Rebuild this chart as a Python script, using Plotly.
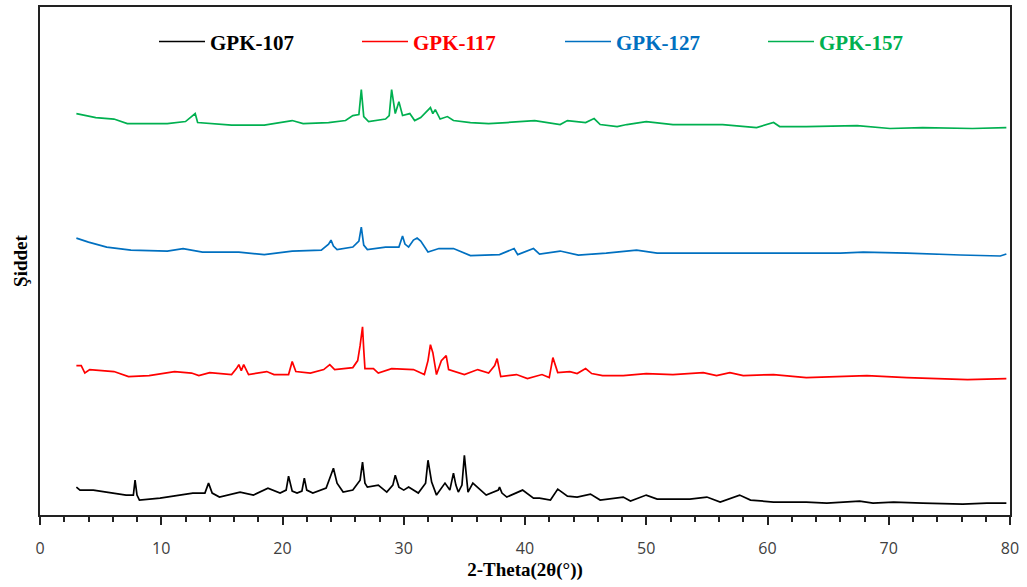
import plotly.graph_objects as go

# ---------------- data (stacked intensities, a.u.) ----------------
black_x = [3.0, 3.3, 4.4, 7.1, 7.7, 7.84, 8.0, 8.2, 9.9, 12.6, 13.6, 13.9, 14.2, 14.8, 16.5, 17.6,
           18.8, 19.8, 20.3, 20.5, 20.8, 21.2, 21.6, 21.8, 22.0, 22.5, 23.6, 24.0, 24.2, 24.5, 25.0,
           25.8, 26.4, 26.6, 26.8, 27.0, 27.9, 28.6, 29.1, 29.3, 29.6, 30.0, 30.4, 31.2, 31.8, 32.0,
           32.3, 32.7, 33.4, 33.8, 34.1, 34.3, 34.5, 34.8, 35.0, 35.2, 35.3, 35.7, 36.8, 37.8, 37.9,
           38.1, 38.5, 39.8, 40.7, 41.2, 42.1, 42.7, 43.5, 44.3, 45.4, 46.2, 48.1, 48.7, 50.0, 50.9,
           53.6, 55.0, 56.1, 57.7, 58.6, 60.5, 63.2, 64.9, 67.6, 68.7, 70.4, 72.8, 76.1, 78.1, 79.7]
black_y = [28, 25, 25, 20, 20, 35, 20, 15, 17, 22, 22, 32, 22, 18, 23, 20,
           27, 22, 25, 39, 24, 22, 24, 37, 25, 22, 27, 40, 47, 32, 23,
           25, 35, 53, 32, 28, 30, 23, 30, 40, 28, 25, 28, 22, 32, 55,
           33, 20, 32, 25, 42, 30, 23, 30, 60, 35, 23, 32, 20, 25, 28,
           22, 18, 25, 17, 17, 15, 26, 19, 18, 21, 15, 18, 14, 20, 16,
           16, 18, 13, 20, 15, 13, 13, 12, 14, 12, 13, 12, 11, 12, 12]

red_x = [3.0, 3.4, 3.7, 4.1, 6.1, 7.3, 9.0, 11.1, 12.5, 13.1, 14.0, 15.8, 16.2, 16.4, 16.6, 16.8,
         17.2, 18.7, 19.3, 20.5, 20.8, 21.1, 22.3, 23.4, 23.9, 24.3, 25.8, 26.2, 26.4, 26.6, 26.7,
         26.8, 27.5, 27.9, 29.0, 30.8, 31.7, 32.0, 32.2, 32.4, 32.7, 33.1, 33.5, 33.7, 35.0, 36.1,
         37.0, 37.5, 37.7, 38.0, 39.3, 40.2, 41.4, 42.0, 42.3, 42.5, 42.7, 43.7, 44.3, 45.0, 45.5,
         46.4, 48.1, 50.0, 52.2, 54.7, 55.8, 56.9, 58.0, 60.5, 63.2, 68.2, 71.5, 76.5, 79.7]
red_y = [150, 150, 142.5, 146, 144, 139, 140, 144, 142.5, 140, 143, 141, 147, 151, 145, 151,
         141, 144, 141, 141, 154, 144, 142.5, 146, 151, 146, 148, 155, 170, 189, 166,
         147, 147, 142.5, 147, 146, 141, 155, 171, 163, 141, 155, 160, 146, 141, 146,
         142.5, 150, 157, 139, 141, 137, 141, 138, 158, 150, 143, 144, 142, 147, 142,
         140, 140, 142, 141, 143, 140, 143, 140, 141, 138, 140, 138, 136, 137]

blue_x = [3.0, 4.0, 5.5, 7.5, 10.5, 11.8, 13.4, 16.4, 18.5, 20.8, 23.2, 23.8, 24.0, 24.2, 24.5,
          25.8, 26.3, 26.5, 26.7, 27.0, 28.5, 29.6, 29.9, 30.1, 30.4, 30.8, 31.1, 31.4, 32.0, 32.9,
          34.1, 35.5, 37.9, 39.1, 39.4, 40.7, 41.2, 42.9, 44.4, 46.7, 49.2, 50.9, 55.0, 60.5, 66.0,
          67.9, 71.5, 75.9, 79.2, 79.7]
blue_y = [278, 274, 269, 266, 265, 267.5, 264, 264, 261.4, 265, 266, 272, 276, 270, 266.4,
          269, 275, 289, 271, 266.4, 269, 269, 280, 272, 269, 276, 278, 275, 264, 267.5,
          267.5, 260.4, 261.4, 267.5, 261.4, 267.5, 262, 265, 261, 263, 266, 263, 263, 263, 263,
          264, 263, 261, 260, 262]

green_x = [3.0, 4.6, 6.1, 7.2, 10.5, 12.0, 12.8, 13.0, 15.8, 18.5, 20.8, 21.7, 23.8, 25.2, 25.8,
           26.3, 26.5, 26.7, 27.1, 28.5, 28.8, 29.0, 29.3, 29.6, 29.9, 30.5, 30.9, 31.4, 32.2, 32.4,
           32.6, 33.0, 33.6, 34.1, 35.5, 37.0, 38.5, 40.8, 42.9, 43.5, 45.0, 45.7, 46.2, 47.6, 48.4,
           50.0, 52.2, 56.3, 59.1, 60.5, 61.0, 63.2, 67.4, 70.1, 72.8, 76.9, 79.7]
green_y = [403, 399, 397.5, 393, 393, 395, 403, 394, 391.4, 391.4, 396, 393, 394, 396, 401,
           402, 427, 400, 395, 397.5, 401, 427, 403, 415, 401, 403, 396, 399, 409, 403,
           407, 397.5, 400, 396, 394, 393, 394, 396, 392, 396, 394, 398, 392, 390, 392,
           395, 392, 392, 389, 394, 390, 390, 391, 388, 389, 388, 389]

series_names = ["GPK-107", "GPK-117", "GPK-127", "GPK-157"]
series_colors = ["#000000", "#FF0000", "#0070C0", "#00B050"]
series_x = [black_x, red_x, blue_x, green_x]
series_y = [black_y, red_y, blue_y, green_y]

x_ticks = [0, 10, 20, 30, 40, 50, 60, 70, 80]

# ---------------- figure ----------------
fig = go.Figure()
for name, col, xs, ys in zip(series_names, series_colors, series_x, series_y):
    fig.add_trace(go.Scatter(
        x=xs, y=ys, mode="lines",
        line=dict(color=col, width=1.7),
        name=f'<span style="color:{col}">{name}</span>',
    ))

fig.update_layout(
    width=1027, height=587,
    margin=dict(l=40, r=17, t=5, b=72),
    paper_bgcolor="white", plot_bgcolor="white",
    showlegend=True,
    legend=dict(
        orientation="h",
        x=(154 - 40) / 970, xanchor="left",
        y=(515 - 40) / 510, yanchor="middle",
        entrywidth=142, entrywidthmode="pixels",
        itemwidth=46,
        font=dict(family="Liberation Serif", size=21, weight="bold", color="#000000"),
        bgcolor="rgba(0,0,0,0)",
    ),
    xaxis=dict(
        range=[0, 80],
        tickvals=x_ticks,
        ticks="outside", ticklen=8, tickwidth=1.5, tickcolor="#222222",
        ticklabelstandoff=10,
        minor=dict(dtick=2, ticks="outside", ticklen=5, tickwidth=1.5, tickcolor="#222222"),
        showline=True, linecolor="#222222", linewidth=1.8, mirror=True,
        showgrid=False, zeroline=False,
        tickfont=dict(family="Open Sans", size=16, color="#404040"),
        title=dict(text="2-Theta(2θ(°))", standoff=0,
                   font=dict(family="Liberation Serif", size=19, weight="bold", color="#000000")),
    ),
    yaxis=dict(
        range=[0, 510],
        showticklabels=False, ticks="",
        showline=True, linecolor="#222222", linewidth=1.8, mirror=True,
        showgrid=False, zeroline=False,
        title=dict(text="Şiddet", standoff=5,
                   font=dict(family="Liberation Serif", size=19, weight="bold", color="#000000")),
    ),
)

fig.write_html("out.html")
